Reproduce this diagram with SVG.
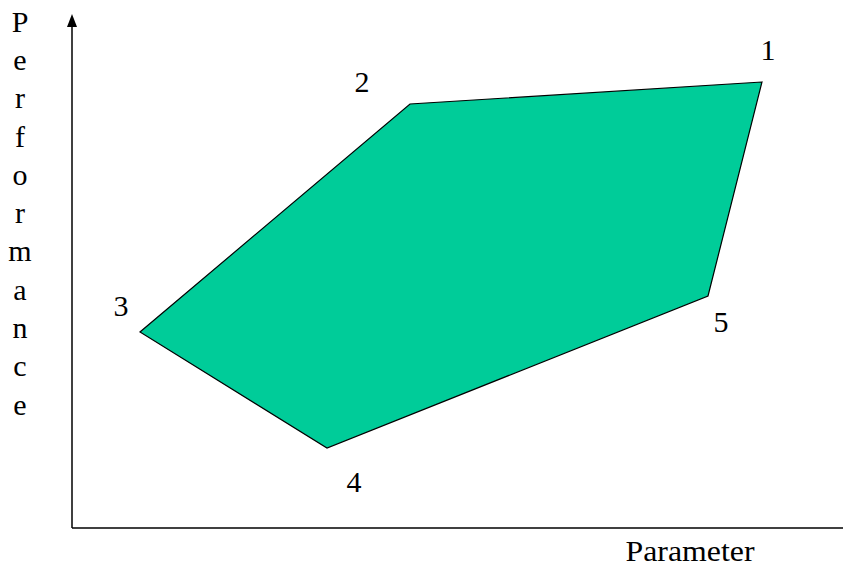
<svg xmlns="http://www.w3.org/2000/svg" width="846" height="567" viewBox="0 0 846 567">
<style>
text{font-family:"Liberation Serif","DejaVu Serif","Times New Roman",serif;font-size:30px;fill:#000;text-anchor:middle}
.axis{stroke:#000;stroke-width:1.5;fill:none}
</style>
<g id="axes">
<path class="axis" d="M72,528 L72,26"/>
<path d="M67,27 L72,14 L77,27 Z" fill="#000"/>
<path class="axis" d="M72,528 L843,528"/>
</g>
<g id="region">
<polygon points="762,82 410,104 140,332 327,448 708,296" fill="#00CC99" stroke="#000" stroke-width="1.2"/>
</g>
<g id="labels">
<text x="768" y="60">1</text>
<text x="362" y="92">2</text>
<text x="121" y="316">3</text>
<text x="354" y="492">4</text>
<text x="721" y="332">5</text>
</g>
<g id="ylabel">
<text x="20" y="32">P</text>
<text x="20" y="70">e</text>
<text x="20" y="108">r</text>
<text x="20" y="147">f</text>
<text x="20" y="185">o</text>
<text x="20" y="223">r</text>
<text x="20" y="261">m</text>
<text x="20" y="300">a</text>
<text x="20" y="338">n</text>
<text x="20" y="376">c</text>
<text x="20" y="415">e</text>
</g>
<g id="xlabel">
<text x="690" y="561" font-size="29" textLength="129" lengthAdjust="spacingAndGlyphs">Parameter</text>
</g>
</svg>
